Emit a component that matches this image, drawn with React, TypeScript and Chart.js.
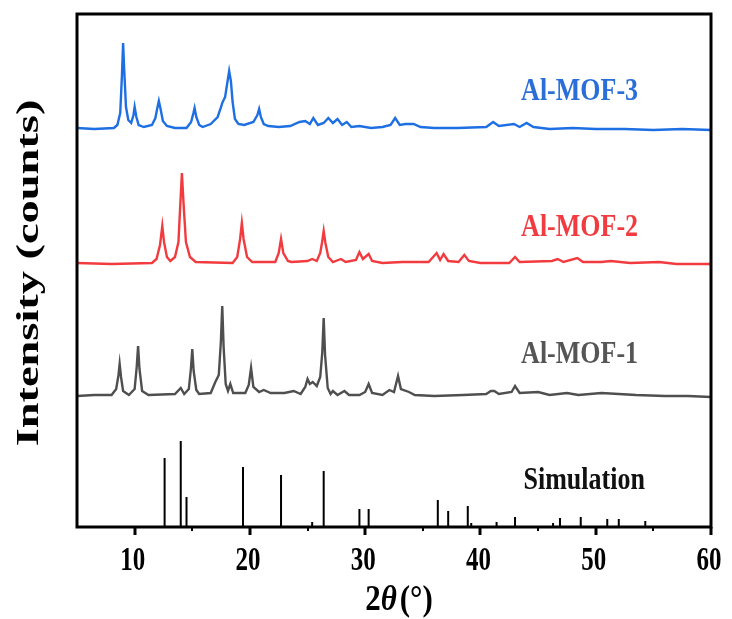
import React, { useEffect, useRef } from "react";
import { Chart, registerables } from "chart.js";

Chart.register(...registerables);

// 2θ range and tick labels
const xMin = 5;
const xMax = 60;
const majorTicks = [10, 20, 30, 40, 50, 60];
const minorTicks = [15, 25, 35, 45, 55];

// Al-MOF-3 (blue) trace: [2θ, intensity]
const mof3: [number, number][] = [
  [5, 399], [6.5, 398], [8.2, 399], [8.5, 402], [8.75, 414], [8.9, 452], [9.0, 484], [9.1, 456],
  [9.25, 420], [9.45, 407], [9.7, 404], [9.9, 412], [10.0, 420], [10.15, 410], [10.35, 402],
  [10.8, 400], [11.5, 402], [11.8, 409], [11.95, 418], [12.1, 426], [12.25, 418], [12.45, 406],
  [12.8, 401], [13.5, 399], [14.5, 399], [14.9, 405], [15.1, 414], [15.2, 419], [15.35, 410],
  [15.6, 402], [15.9, 400], [16.6, 403], [17.2, 410], [17.5, 420], [17.6, 424], [17.85, 430],
  [18.05, 445], [18.2, 456], [18.35, 446], [18.5, 425], [18.7, 408], [19.0, 403], [19.5, 402],
  [20.3, 405], [20.65, 412], [20.8, 418], [20.95, 410], [21.2, 403], [21.6, 401], [22.5, 400],
  [23.5, 401], [24.3, 405], [24.8, 406], [25.2, 403], [25.5, 409], [25.9, 402], [26.4, 404],
  [26.8, 409], [27.2, 404], [27.6, 408], [28.0, 402], [28.4, 405], [28.8, 400], [29.5, 401],
  [30.5, 399], [31.5, 400], [32.2, 402], [32.6, 409], [33.0, 402], [33.5, 403], [34.2, 403],
  [34.8, 400], [36, 399], [38, 399], [40.5, 400], [41.1, 405], [41.6, 401], [42.9, 403],
  [43.4, 400], [44.0, 404], [44.6, 400], [46, 398], [48, 399], [50, 398], [52.5, 398], [55, 397],
  [57.5, 398], [60, 397],
];

// Al-MOF-2 (red) trace
const mof2: [number, number][] = [
  [5, 264], [8, 263], [11.5, 264], [11.9, 268], [12.2, 282], [12.4, 301], [12.55, 285],
  [12.8, 270], [13.1, 266], [13.5, 270], [13.8, 285], [13.95, 320], [14.1, 354], [14.25, 322],
  [14.45, 285], [14.8, 270], [15.3, 265], [18.5, 264], [18.9, 270], [19.15, 288], [19.3, 304],
  [19.45, 288], [19.75, 270], [20.2, 265], [22.2, 265], [22.5, 274], [22.7, 288], [22.9, 274],
  [23.3, 266], [23.6, 265], [25.0, 266], [25.4, 268], [25.8, 266], [26.1, 274], [26.25, 284],
  [26.4, 296], [26.55, 284], [26.8, 270], [27.2, 265], [27.9, 268], [28.3, 265], [29.2, 267],
  [29.5, 275], [29.8, 268], [30.3, 273], [30.6, 266], [31.5, 264], [33.2, 265], [35.5, 265],
  [36.2, 274], [36.5, 267], [36.8, 273], [37.2, 266], [38.1, 265], [38.6, 272], [39.0, 266],
  [40, 264], [42.5, 264], [43.0, 270], [43.4, 265], [46.2, 266], [46.7, 268], [47.2, 265],
  [48.4, 269], [48.9, 265], [50.5, 265], [51.3, 266], [53, 264], [55.5, 265], [57, 263], [60, 263],
];

// Al-MOF-1 (grey) trace
const mof1: [number, number][] = [
  [5, 131], [6.5, 132], [8.0, 132], [8.4, 138], [8.6, 152], [8.7, 163], [8.82, 150], [9.0, 136],
  [9.5, 132], [10.0, 138], [10.18, 160], [10.3, 181], [10.42, 158], [10.65, 136], [11.2, 132],
  [13.5, 133], [14.0, 139], [14.3, 133], [14.7, 138], [14.88, 158], [15.0, 178], [15.12, 156],
  [15.35, 137], [15.6, 133], [16.6, 134], [17.0, 145], [17.3, 152], [17.48, 185], [17.6, 221],
  [17.72, 180], [17.9, 143], [18.1, 136], [18.3, 143], [18.55, 134], [19.6, 134], [19.9, 142],
  [20.1, 159], [20.3, 140], [20.8, 135], [21.2, 137], [21.8, 134], [23.0, 134], [23.8, 136],
  [24.4, 133], [24.8, 140], [25.0, 148], [25.2, 143], [25.45, 145], [25.8, 141], [26.1, 150],
  [26.28, 175], [26.4, 209], [26.52, 172], [26.75, 139], [27.0, 133], [27.2, 136], [27.6, 132],
  [28.2, 136], [28.6, 132], [29.5, 132], [30.0, 135], [30.3, 143], [30.6, 134], [31.5, 132],
  [32.1, 137], [32.5, 135], [32.85, 151], [33.1, 138], [33.8, 135], [34.3, 132], [36, 131],
  [38.5, 132], [40.5, 133], [40.9, 136], [41.2, 136], [41.6, 133], [42.7, 135], [43.0, 141],
  [43.4, 134], [45.0, 135], [46, 132], [47.5, 134], [48.5, 132], [50.5, 134], [52, 133],
  [53.5, 132], [56, 131], [58, 131], [60, 130],
];

// Simulated pattern (stick positions and heights)
const simPos = [12.6, 14.0, 14.5, 19.4, 22.7, 25.4, 26.4, 29.5, 30.3, 36.3, 37.2, 38.9, 39.2, 41.4, 43.0, 46.3, 46.9, 48.7, 51.0, 52.0, 54.3];
const simInt = [69, 86, 30, 60, 52, 5, 56, 18, 18, 27, 16, 21, 4, 5, 10, 4, 9, 10, 8, 8, 6];

const seriesLabels = ["Al-MOF-3", "Al-MOF-2", "Al-MOF-1", "Simulation"];
const seriesColors = ["#1e6fe3", "#f23b3f", "#4f4f4f", "#000000"];
const labelColors = ["#2a6fd8", "#f03c40", "#555555", "#111111"];
const labelX = [48.6, 48.6, 48.6, 49.0];
const labelY = [435, 299, 172, 46];

const SERIF = '"Liberation Serif", "Times New Roman", serif';

function stretchedText(ctx: CanvasRenderingContext2D, text: string, x: number, y: number, font: string, color: string, sy: number) {
  ctx.save();
  ctx.translate(x, y);
  ctx.scale(1, sy);
  ctx.font = font;
  ctx.fillStyle = color;
  ctx.textAlign = "center";
  ctx.textBaseline = "middle";
  ctx.fillText(text, 0, 0);
  ctx.restore();
}

const decorPlugin = {
  id: "decor",
  afterDraw(chart: any) {
    const ctx: CanvasRenderingContext2D = chart.ctx;
    const { left, right, top, bottom } = chart.chartArea;
    const xs = chart.scales.x;
    const ys = chart.scales.y;

    // frame
    ctx.save();
    ctx.strokeStyle = "#000";
    ctx.lineWidth = 3;
    ctx.strokeRect(left, top, right - left, bottom - top);

    // ticks
    ctx.lineWidth = 3;
    majorTicks.forEach((t) => {
      const px = Math.round(xs.getPixelForValue(t));
      ctx.beginPath();
      ctx.moveTo(px, bottom);
      ctx.lineTo(px, bottom + 8);
      ctx.stroke();
    });
    ctx.lineWidth = 2;
    minorTicks.forEach((t) => {
      const px = Math.round(xs.getPixelForValue(t));
      ctx.beginPath();
      ctx.moveTo(px, bottom);
      ctx.lineTo(px, bottom + 4);
      ctx.stroke();
    });
    ctx.restore();

    // tick labels
    majorTicks.forEach((t) => {
      const px = xs.getPixelForValue(t);
      stretchedText(ctx, String(t), px - 2, bottom + 34, `bold 25px ${SERIF}`, "#000", 1.35);
    });

    // x title: 2θ(°)
    ctx.save();
    const cx = 399;
    const cy = 601;
    const fB = `bold 31px ${SERIF}`;
    const fI = `italic bold 31px ${SERIF}`;
    const parts: [string, string][] = [["2", fB], ["\u03B8", fI], ["(\u00B0)", fB]];
    let total = 0;
    parts.forEach(([s, f]) => { ctx.font = f; total += ctx.measureText(s).width; });
    total += 3;
    ctx.translate(cx - total / 2, cy);
    ctx.scale(1, 1.15);
    ctx.fillStyle = "#000";
    ctx.textBaseline = "middle";
    ctx.textAlign = "left";
    let off = 0;
    parts.forEach(([s, f], i) => {
      ctx.font = f;
      ctx.fillText(s, off, 0);
      off += ctx.measureText(s).width + (i === 1 ? 3 : 0);
    });
    ctx.restore();

    // y title
    ctx.save();
    ctx.translate(30, 273);
    ctx.scale(1, 1.45);
    ctx.rotate(-Math.PI / 2);
    ctx.font = `bold 32px ${SERIF}`;
    ctx.fillStyle = "#000";
    ctx.textAlign = "center";
    ctx.textBaseline = "middle";
    ctx.fillText("Intensity (counts)", 0, 0);
    ctx.restore();

    // series labels
    seriesLabels.forEach((lab, i) => {
      const px = xs.getPixelForValue(labelX[i]);
      const py = ys.getPixelForValue(labelY[i]);
      stretchedText(ctx, lab, px, py, `bold 26px ${SERIF}`, labelColors[i], 1.2);
    });
  },
};

export default function App() {
  const ref = useRef<HTMLCanvasElement | null>(null);

  useEffect(() => {
    document.body.style.margin = "0";
    if (!ref.current) return;

    const toXY = (arr: [number, number][]) => arr.map(([x, y]) => ({ x, y }));
    const sticks: { x: number; y: number | null }[] = [];
    simPos.forEach((p, i) => {
      sticks.push({ x: p, y: 0 });
      sticks.push({ x: p, y: simInt[i] });
      sticks.push({ x: p, y: null });
    });

    const chart = new Chart(ref.current, {
      type: "line",
      data: {
        datasets: [
          { label: seriesLabels[0], data: toXY(mof3), borderColor: seriesColors[0], borderWidth: 2.4, pointRadius: 0, tension: 0 },
          { label: seriesLabels[1], data: toXY(mof2), borderColor: seriesColors[1], borderWidth: 2.4, pointRadius: 0, tension: 0 },
          { label: seriesLabels[2], data: toXY(mof1), borderColor: seriesColors[2], borderWidth: 2.4, pointRadius: 0, tension: 0 },
          { label: seriesLabels[3], data: sticks as any, borderColor: seriesColors[3], borderWidth: 2, pointRadius: 0, tension: 0, spanGaps: false },
        ],
      },
      options: {
        animation: false,
        responsive: true,
        maintainAspectRatio: false,
        layout: { padding: { top: 14, right: 21, left: 0, bottom: 0 } },
        plugins: { legend: { display: false }, tooltip: { enabled: false } },
        scales: {
          x: {
            type: "linear",
            min: xMin,
            max: xMax,
            grid: { display: false },
            border: { display: false },
            ticks: { display: false },
            afterFit: (s: any) => { s.height = 92; },
          },
          y: {
            type: "linear",
            min: 0,
            max: 513,
            grid: { display: false },
            border: { display: false },
            ticks: { display: false },
            afterFit: (s: any) => { s.width = 77; },
          },
        },
      },
      plugins: [decorPlugin],
    });
    return () => chart.destroy();
  }, []);

  return (
    <div style={{ position: "fixed", left: 0, top: 0, width: 732, height: 619 }}>
      <canvas ref={ref} />
    </div>
  );
}
